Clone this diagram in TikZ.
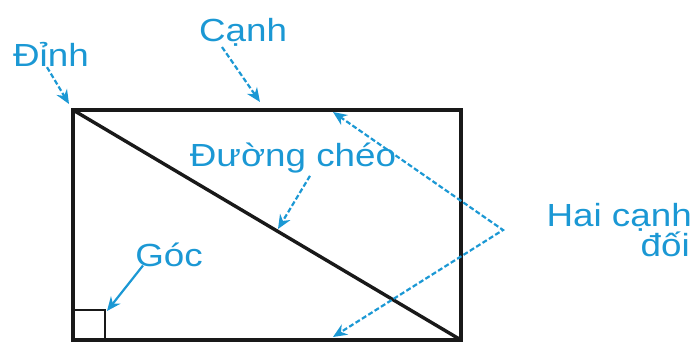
\documentclass[tikz,border=0pt]{standalone}
\usepackage{fontspec}
\newfontfamily\lblfont[FakeStretch=1.15]{Liberation Sans}
\usetikzlibrary{arrows.meta, positioning}
\definecolor{lblblue}{RGB}{27,152,212}

\begin{document}
\begin{tikzpicture}[x=1pt, y=1pt, >={Stealth[length=14pt, width=12pt]},
    edge/.style={line width=3.4pt, black!90},
    lbl/.style={text=lblblue, font=\lblfont\fontsize{32}{36}\selectfont, inner sep=0pt, anchor=base},
    pointer/.style={->, lblblue, line width=2.2pt, dash pattern=on 5pt off 2.5pt},
    solidptr/.style={->, lblblue, line width=2.2pt}]
  \useasboundingbox (0,0) rectangle (694,343);
  % Rectangle and its diagonal
  \coordinate (tl) at (73,233);
  \coordinate (tr) at (461,233);
  \coordinate (br) at (461,3);
  \coordinate (bl) at (73,3);
  \draw[edge, line join=miter] (tl) -- (tr) -- (br) -- (bl) -- cycle;
  \draw[edge] (tl) -- (br);
  \draw[line width=2pt, black!90] (bl) rectangle ++(32,30);
  % Labels
  \node[lbl] (dinh) at (51,276)  {Đỉnh};
  \node[lbl] (canh) at (243,301) {Cạnh};
  \node[lbl] (cheo) at (293,176) {Đường chéo};
  \node[lbl] (goc)  at (169,76)  {Góc};
  \node[lbl, anchor=base east] (hai) at (692,116) {Hai cạnh};
  \node[lbl, anchor=base east] (doi) at (690,86)  {đối};
  % Arrow ends
  \coordinate (vtip)  at (69,239);
  \coordinate (ctip)  at (260,241);
  \coordinate (dtip)  at (278,114);
  \coordinate (gtip)  at (107,32);
  \coordinate (fork)  at (503,113);
  \coordinate (toptip) at (333,231);
  \coordinate (bottip) at (333,6);
  \draw[pointer] ([xshift=-4]dinh.south) -- (vtip);
  \draw[pointer] ([xshift=-21]canh.south) -- (ctip);
  \draw[pointer] ([xshift=17,yshift=-2]cheo.south) -- (dtip);
  \draw[solidptr] ([xshift=-26,yshift=2]goc.south) -- (gtip);
  \draw[pointer, <->] (toptip) -- (fork) -- (bottip);
\end{tikzpicture}
\end{document}
